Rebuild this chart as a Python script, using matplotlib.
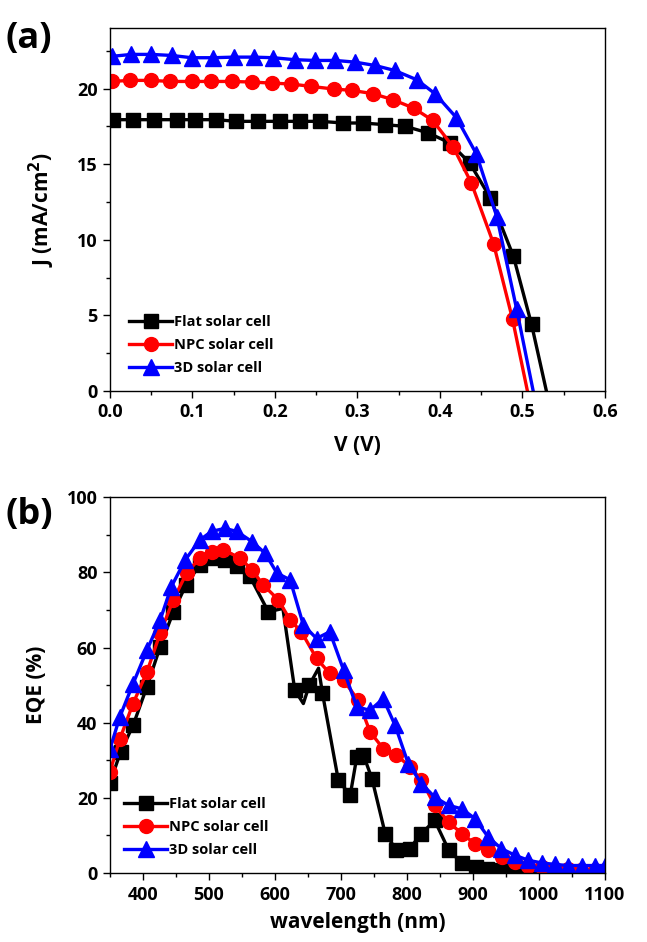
import matplotlib
matplotlib.use("Agg")
from matplotlib import pyplot as plt
from matplotlib import ticker

plt.rcParams['font.family'] = ['Open Sans', 'DejaVu Sans']
plt.rcParams['font.weight'] = 'bold'
plt.rcParams['axes.labelweight'] = 'bold'

# (a) J-V curves
flatV = [0.004, 0.028, 0.053, 0.081, 0.103, 0.129, 0.153, 0.180, 0.206, 0.230, 0.255,
         0.283, 0.307, 0.333, 0.358, 0.386, 0.412, 0.436, 0.461, 0.489, 0.511, 0.529]
flatJ = [17.95, 17.95, 17.95, 17.95, 17.95, 17.95, 17.84, 17.84, 17.84, 17.84, 17.84,
         17.73, 17.73, 17.62, 17.51, 17.07, 16.41, 15.09, 12.78, 8.92, 4.41, 0.0]
npcV = [0.002, 0.024, 0.050, 0.073, 0.099, 0.123, 0.148, 0.172, 0.196, 0.220, 0.244,
        0.271, 0.293, 0.319, 0.343, 0.368, 0.391, 0.416, 0.438, 0.465, 0.488, 0.506]
npcJ = [20.48, 20.55, 20.55, 20.48, 20.48, 20.48, 20.48, 20.44, 20.37, 20.31, 20.15,
        19.98, 19.89, 19.67, 19.27, 18.72, 17.91, 16.15, 13.77, 9.74, 4.74, 0.0]
cellV = [0.002, 0.026, 0.050, 0.075, 0.099, 0.125, 0.150, 0.174, 0.198, 0.224, 0.248,
         0.273, 0.297, 0.321, 0.345, 0.372, 0.394, 0.420, 0.444, 0.469, 0.493, 0.513]
cellJ = [22.14, 22.27, 22.27, 22.20, 22.05, 22.05, 22.09, 22.09, 22.05, 21.92, 21.87,
         21.87, 21.76, 21.54, 21.21, 20.59, 19.67, 18.08, 15.70, 11.52, 5.40, 0.0]

# (b) EQE spectra
flatWl = [350, 366, 385, 406, 426, 446, 465, 486, 507, 524, 542, 562, 590, 612, 630, 643,
          652, 666, 672, 696, 714, 724, 734, 747, 767, 784, 804, 822, 842, 863, 883, 904,
          922, 941, 960, 980, 1000]
flatEQE = [24.0, 32.2, 39.3, 49.6, 60.2, 69.5, 76.6, 82.0, 83.7, 83.3, 81.7, 78.9, 69.5, 70.4,
           48.7, 45.1, 50.0, 54.5, 47.8, 24.7, 20.7, 30.9, 31.4, 25.1, 10.5, 6.2, 6.5, 10.5,
           14.0, 6.2, 2.7, 1.6, 1.0, 0.9, 0.6, 0.4, 0.3]
flatSkip = [13, 15, 17]
npcWl = [350, 365, 385, 406, 426, 446, 466, 486, 504, 522, 547, 565, 582, 605, 623, 640,
         663, 683, 704, 726, 744, 764, 784, 805, 822, 842, 863, 883, 903, 923, 944, 964,
         984, 1004, 1024, 1044, 1064, 1085, 1100]
npcEQE = [27.0, 35.7, 45.1, 53.5, 63.8, 72.7, 79.8, 83.8, 85.5, 86.0, 83.8, 80.7, 76.7, 72.7,
          67.3, 64.2, 57.1, 53.1, 51.3, 46.0, 37.6, 33.1, 31.4, 28.2, 24.7, 18.0, 13.6, 10.5,
          7.8, 6.0, 4.3, 2.9, 2.0, 1.6, 1.2, 1.0, 0.9, 0.9, 0.9]
cellWl = [350, 365, 385, 406, 426, 443, 464, 486, 504, 524, 542, 565, 585, 603, 623, 643,
          663, 683, 704, 724, 744, 764, 782, 802, 822, 842, 863, 883, 903, 923, 943, 964,
          984, 1004, 1024, 1044, 1065, 1085, 1100]
cellEQE = [33.0, 41.6, 50.4, 59.3, 67.3, 76.2, 83.3, 88.6, 90.9, 91.7, 90.9, 88.2, 85.1, 79.8,
           78.0, 66.0, 62.4, 64.2, 54.0, 44.2, 43.3, 46.4, 39.3, 29.1, 23.8, 20.2, 18.0, 17.1,
           14.5, 9.6, 6.5, 4.7, 3.4, 2.7, 2.3, 2.0, 2.0, 2.0, 2.0]

labels = ['Flat solar cell', 'NPC solar cell', '3D solar cell']

fig = plt.figure(figsize=(6.47, 9.42), dpi=100)
axA = fig.add_axes([0.170, 0.585, 0.765, 0.385])
axB = fig.add_axes([0.170, 0.0732, 0.765, 0.399])

lw = 2.4
ms = 10

def style(ax):
    ax.tick_params(which='both', direction='out', top=False, right=False, labelsize=13, pad=4)
    ax.tick_params(which='major', length=5, width=1)
    ax.tick_params(which='minor', length=3, width=1)
    for s in ax.spines.values():
        s.set_linewidth(1.0)
    for t in ax.get_xticklabels() + ax.get_yticklabels():
        t.set_fontweight('bold')

legendOpts = dict(frameon=False, handlelength=3.0, handletextpad=0.1, labelspacing=0.62,
                  borderaxespad=0.2, prop={'weight': 'bold', 'size': 10.5})

# panel (a)
axA.plot(flatV, flatJ, color='black', lw=lw, marker='s', ms=ms, markevery=list(range(len(flatV) - 1)), label=labels[0])
axA.plot(npcV, npcJ, color='red', lw=lw, marker='o', ms=ms, markevery=list(range(len(npcV) - 1)), label=labels[1])
axA.plot(cellV, cellJ, color='blue', lw=lw, marker='^', ms=ms + 1, markevery=list(range(len(cellV) - 1)), label=labels[2])
axA.set_xlim(0, 0.6)
axA.set_ylim(0, 24)
axA.xaxis.set_major_locator(ticker.MultipleLocator(0.1))
axA.xaxis.set_minor_locator(ticker.MultipleLocator(0.05))
axA.yaxis.set_major_locator(ticker.MultipleLocator(5))
axA.yaxis.set_minor_locator(ticker.MultipleLocator(2.5))
axA.xaxis.set_major_formatter(ticker.FormatStrFormatter('%.1f'))
axA.set_xlabel('V (V)', fontsize=15, fontweight='bold', labelpad=10)
axA.set_ylabel('J (mA/cm$^\\mathbf{2}$)', fontsize=15, fontweight='bold', labelpad=14)
style(axA)
axA.legend(loc='lower left', bbox_to_anchor=(0.02, 0.02), **legendOpts)
fig.text(0.008, 0.978, '(a)', fontsize=26, fontweight='bold', va='top')

# panel (b)
flatMarks = [i for i in range(len(flatWl)) if i not in flatSkip]
axB.plot(flatWl, flatEQE, color='black', lw=lw, marker='s', ms=ms, markevery=flatMarks, label=labels[0])
axB.plot(npcWl, npcEQE, color='red', lw=lw, marker='o', ms=ms, label=labels[1])
axB.plot(cellWl, cellEQE, color='blue', lw=lw, marker='^', ms=ms + 1, label=labels[2])
axB.set_xlim(350, 1100)
axB.set_ylim(0, 100)
axB.set_xticks(range(400, 1101, 100))
axB.xaxis.set_minor_locator(ticker.FixedLocator(range(350, 1101, 50)))
axB.yaxis.set_major_locator(ticker.MultipleLocator(20))
axB.yaxis.set_minor_locator(ticker.MultipleLocator(10))
axB.set_xlabel('wavelength (nm)', fontsize=15, fontweight='bold', labelpad=6)
axB.set_ylabel('EQE (%)', fontsize=15, fontweight='bold', labelpad=14)
style(axB)
axB.legend(loc='lower left', bbox_to_anchor=(0.01, 0.02), **legendOpts)
fig.text(0.008, 0.472, '(b)', fontsize=26, fontweight='bold', va='top')

fig.savefig('out.png', dpi=100)
